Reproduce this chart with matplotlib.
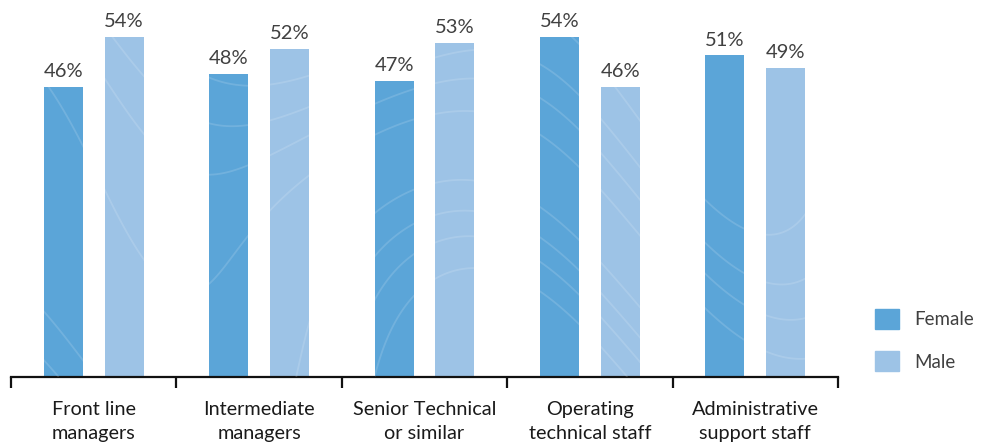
import numpy as np
import matplotlib
matplotlib.use("Agg")
import matplotlib.pyplot as plt
from matplotlib.patches import Patch

plt.rcParams['font.family'] = ['Lato', 'DejaVu Sans']

categories = ["Front line\nmanagers", "Intermediate\nmanagers", "Senior Technical\nor similar",
              "Operating\ntechnical staff", "Administrative\nsupport staff"]
female = [46, 48, 47, 54, 51]
male = [54, 52, 53, 46, 49]

c_female = '#5ba5d8'
c_male = '#9dc3e6'

fig = plt.figure(figsize=(9.81, 4.48), dpi=100)
ax = fig.add_axes([11/981, 71/448, 827/981, 377/448])

x = np.arange(len(categories))
w = 0.236
off = 0.184
bars_f = ax.bar(x - off, female, w, color=c_female, zorder=2)
bars_m = ax.bar(x + off, male, w, color=c_male, zorder=2)

# faint topographic texture inside the bars
gx, gy = np.meshgrid(np.linspace(-0.6, 4.6, 300), np.linspace(0, 60, 300))
field = np.sin(gy / 14.0 + 1.3 * np.sin(gx * 1.9) + 0.9 * np.cos(gy / 19.0 + gx * 1.3))
for b in list(bars_f) + list(bars_m):
    cs = ax.contour(gx, gy, field, levels=[-0.6, -0.1, 0.35, 0.8],
                    colors='white', linewidths=1.3, linestyles='solid',
                    alpha=0.14, zorder=3)
    cs.set_clip_path(b)

for bars, vals in ((bars_f, female), (bars_m, male)):
    for b, v in zip(bars, vals):
        ax.annotate(f"{v}%", (b.get_x() + b.get_width() / 2, v), xytext=(0, 5),
                    textcoords='offset points', ha='center', va='bottom',
                    fontsize=14.5, color='#404040')

ax.set_xlim(-0.5, len(categories) - 0.5)
ax.set_ylim(0, 59.8)
for s in ('top', 'right', 'left'):
    ax.spines[s].set_visible(False)
ax.spines['bottom'].set_linewidth(1.6)
ax.spines['bottom'].set_color('#111111')
ax.set_yticks([])
ax.set_xticks(x)
ax.set_xticklabels(categories, fontsize=14.3, color='#1a1a1a', linespacing=1.5)
ax.tick_params(axis='x', which='major', length=0, pad=17)
ax.set_xticks(np.arange(-0.5, len(categories)), minor=True)
ax.tick_params(axis='x', which='minor', length=8, width=1.6, color='#111111')

ax.legend(handles=[Patch(color=c_female, label='Female'), Patch(color=c_male, label='Male')],
          loc='lower left', bbox_to_anchor=(1.0447, 0.015), borderaxespad=0, borderpad=0,
          frameon=False, fontsize=13.5, handlelength=1.27, handleheight=1.27,
          labelspacing=1.2, handletextpad=0.8, labelcolor='#404040')

fig.savefig('out.png', dpi=100)
